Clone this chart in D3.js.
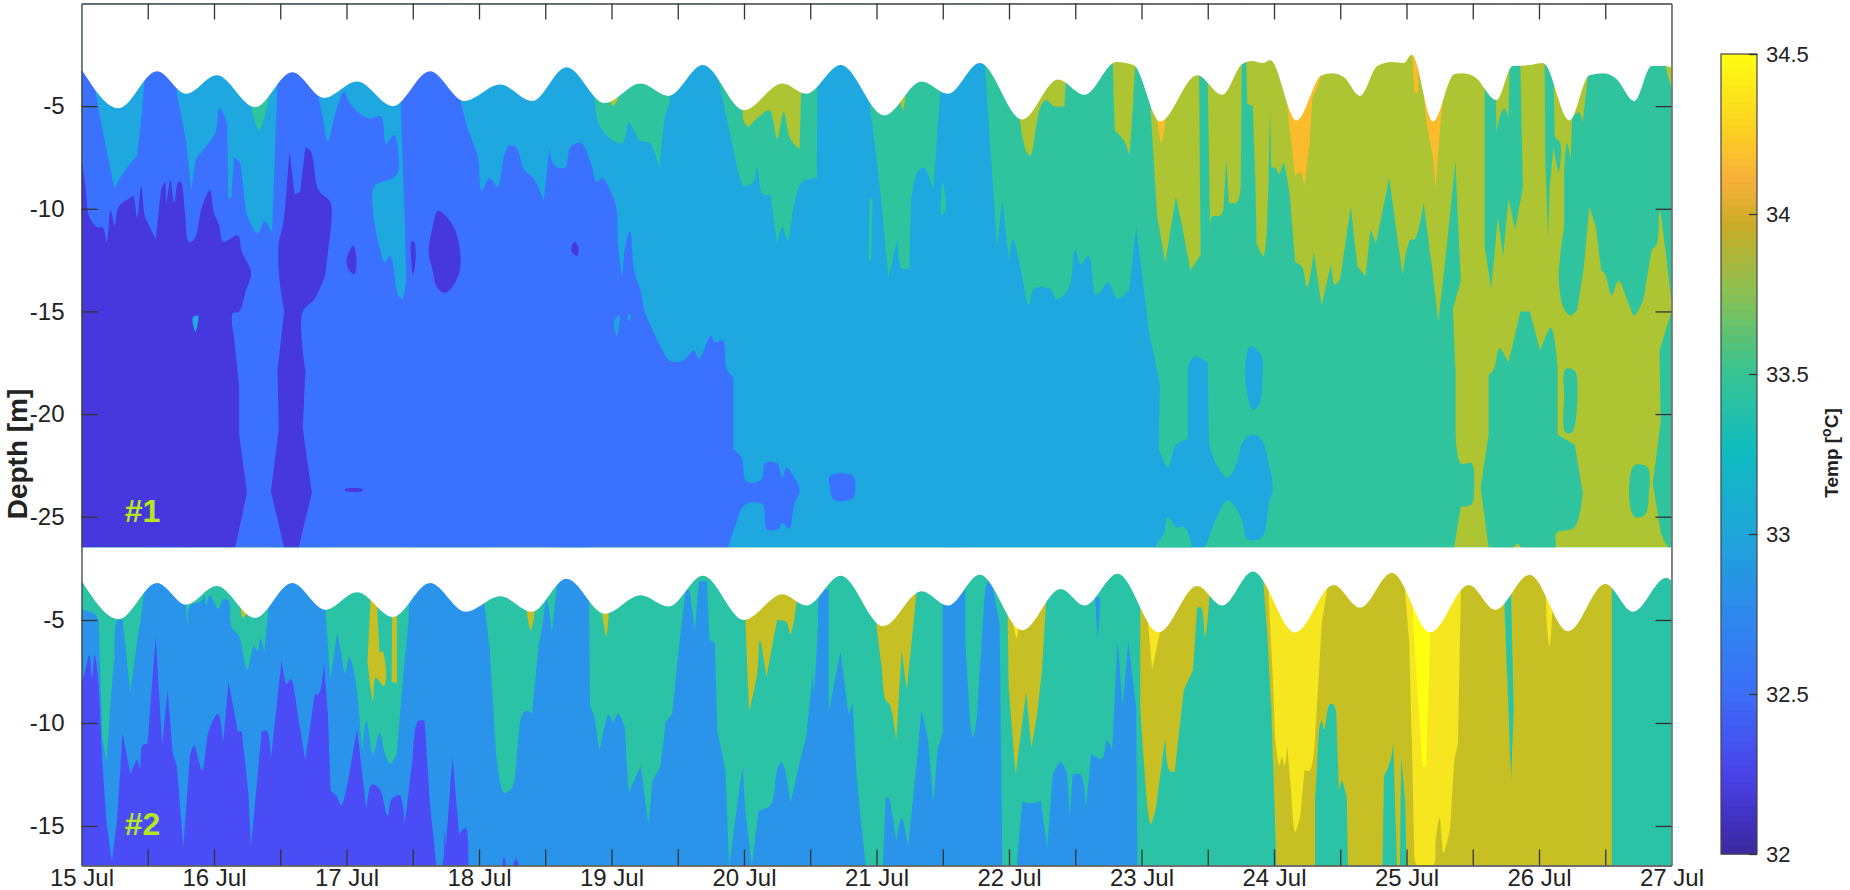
<!DOCTYPE html>
<html>
<head>
<meta charset="utf-8">
<script src="https://cdn.jsdelivr.net/npm/d3@7"></script>
<style>
  body { margin: 0; background: #fff; }
  text { font-family: "Liberation Sans", Arial, sans-serif; fill: #222; }
</style>
</head>
<body>
<svg id="chart" width="1850" height="890"></svg>
<script>
// all shapes are [day of July, depth in m]
let dayTicks = [15, 16, 17, 18, 19, 20, 21, 22, 23, 24, 25, 26, 27];
let halfDayTicks = [15.5, 16, 16.5, 17, 17.5, 18, 18.5, 19, 19.5, 20, 20.5, 21, 21.5, 22, 22.5, 23, 23.5, 24, 24.5, 25, 25.5, 26, 26.5];
let depthTicks1 = [-5, -10, -15, -20, -25];
let depthTicks2 = [-5, -10, -15];
let tempTicks = [32, 32.5, 33, 33.5, 34, 34.5];
let tempStops = [32, 32.12, 32.25, 32.5, 32.75, 33, 33.25, 33.5, 33.75, 33.95, 34.1, 34.25, 34.5];
let tempStopColors = ['#3b2aa0', '#4333c8', '#4a45ea', '#3b6ff8', '#2d8aec', '#1ea6d8', '#10bcc0', '#38c490', '#8cc050', '#c8ac28', '#f8b03a', '#fcd022', '#ffff12'];

// ---- panel #1 ----
let p1Surface = [[15,-3.2],[15.28,-5.1],[15.57,-3.3],[15.79,-4.4],[16.02,-3.5],[16.31,-5.05],[16.59,-3.35],[16.83,-4.6],[17.08,-3.8],[17.35,-5],[17.63,-3.3],[17.89,-4.75],[18.16,-3.95],[18.4,-4.75],[18.66,-3.1],[18.95,-4.85],[19.22,-3.9],[19.43,-4.5],[19.69,-3],[20,-5.2],[20.29,-3.9],[20.47,-4.4],[20.73,-3],[21.06,-5.45],[21.34,-3.8],[21.54,-4.4],[21.78,-2.9],[22.1,-5.65],[22.37,-3.7],[22.57,-4.45],[22.81,-2.85],[22.94,-3],[23.14,-5.75],[23.42,-3.5],[23.61,-4.45],[23.76,-2.95],[23.83,-2.8],[23.92,-2.9],[23.97,-2.75],[24.17,-5.7],[24.36,-3.5],[24.44,-3.4],[24.53,-3.6],[24.65,-4.5],[24.78,-3.05],[24.89,-2.85],[24.98,-2.9],[25.04,-2.5],[25.2,-5.75],[25.36,-3.45],[25.42,-3.4],[25.51,-3.55],[25.68,-4.7],[25.8,-3.05],[25.93,-3],[26.03,-2.9],[26.23,-5.7],[26.38,-3.5],[26.49,-3.4],[26.58,-3.65],[26.72,-4.75],[26.85,-3.05],[26.96,-3.05],[27,-3.15]];
let p1Base = [[15,0],[27,0],[27,-26.5],[15,-26.5]];

let p1TealMain = [[15,0],[18.99,0],[18.99,-4.7],[19.01,-5],[19.05,-4.65],[19.06,0],[19.99,0],[19.99,-5.6],[20.03,-6],[20.08,-5.7],[20.19,-5.2],[20.22,-5.7],[20.25,-6.6],[20.3,-5.3],[20.35,-6.6],[20.42,-7.1],[20.45,0],[21.17,0],[21.18,-4.8],[21.2,-5.2],[21.22,-4.4],[21.23,0],[22.08,0],[22.08,-5.6],[22.13,-7.2],[22.16,-7.4],[22.21,-5.8],[22.24,-5],[22.28,-4.7],[22.34,-5],[22.42,-5],[22.46,0],[22.77,0],[22.8,-6.2],[22.87,-6.7],[22.91,-7.4],[22.94,-4.6],[22.98,0],[23.07,0],[23.07,-5.3],[23.12,-10.4],[23.18,-12.6],[23.26,-9.4],[23.3,-10.6],[23.37,-13],[23.45,-12.2],[23.43,0],[23.5,0],[23.5,-3.7],[23.52,-11.1],[23.53,-10.4],[23.6,-10.3],[23.62,-9.9],[23.64,-7.5],[23.66,-9.7],[23.72,-9.7],[23.75,-8.9],[23.76,0],[23.78,0],[23.8,-4.9],[23.84,-5],[23.86,-8.4],[23.87,-11.7],[23.92,-12.3],[23.95,-10.4],[23.96,-8.4],[23.97,-5.2],[23.98,-8],[24.01,-8],[24.04,-8.3],[24.07,-7.8],[24.12,-9.4],[24.16,-12.6],[24.21,-12.8],[24.25,-13.8],[24.3,-12.1],[24.36,-14.7],[24.43,-12.7],[24.46,-13.7],[24.5,-13.4],[24.58,-9.9],[24.63,-12.8],[24.69,-13.3],[24.73,-11],[24.77,-11.7],[24.87,-8.5],[24.97,-13.2],[25.03,-11.5],[25.06,-11.5],[25.13,-9.7],[25.2,-13.2],[25.24,-15.5],[25.31,-11.5],[25.37,-7.7],[25.41,-13.5],[25.35,-14.9],[25.37,-17.8],[25.37,-20.9],[25.41,-22.4],[25.49,-22.4],[25.51,-23.6],[25.49,-24.4],[25.41,-24.5],[25.36,-26.5],[15,-26.5]];
let p1TealB = [[25.59,0],[25.67,0],[25.68,-6.2],[25.71,-5.4],[25.74,-5.1],[25.77,-5.6],[25.79,0],[25.85,0],[25.88,-8.9],[25.82,-11],[25.77,-9.5],[25.73,-12.3],[25.69,-10.4],[25.64,-13.9],[25.59,-11.8]];
let p1TealC = [[26.04,0],[26.1,0],[26.12,-6.5],[26.16,-6.8],[26.15,-8.2],[26.11,-7],[26.08,-9],[26.07,-11.3],[26.05,-8]];
let p1TealD = [[26.37,0],[26.37,-3.5],[26.33,-5.8],[26.3,-5.3],[26.25,-5.6],[26.24,-7.6],[26.21,-6.8],[26.19,-8.4],[26.19,-10.9],[26.16,-12.3],[26.15,-13.5],[26.19,-14.9],[26.24,-15.2],[26.29,-14.9],[26.34,-12.8],[26.38,-9.9],[26.43,-10.9],[26.47,-13],[26.5,-13.2],[26.55,-14.2],[26.6,-13.5],[26.67,-14.5],[26.72,-15.2],[26.79,-14.4],[26.85,-12],[26.89,-11.7],[26.91,-10.1],[26.95,-11.8],[27,-14.5],[27,-4.1],[26.96,-3.2],[26.95,0]];
let p1TealE = [[25.56,-23.6],[25.62,-21],[25.62,-18.1],[25.66,-17.8],[25.7,-16.8],[25.77,-17.5],[25.86,-15],[25.93,-15],[26.01,-16.9],[26.09,-15.8],[26.14,-17.6],[26.14,-21],[26.27,-21.5],[26.33,-23.8],[26.27,-25.5],[26.13,-25.8],[26.12,-26.5],[25.87,-26.5],[25.84,-26.3],[25.8,-26.5],[25.62,-26.5]];
let p1TealF = [[26.2,-17.8],[26.27,-17.9],[26.29,-19.1],[26.25,-20.9],[26.2,-20.9],[26.19,-19.1]];
let p1TealG = [[26.72,-22.5],[26.82,-22.6],[26.83,-23.8],[26.8,-24.9],[26.72,-25],[26.68,-23.8]];
let p1TealH = [[27,-15],[26.91,-16.9],[26.92,-20.3],[26.86,-23.4],[26.92,-25.8],[26.98,-26.5],[27,-26.5]];
let p1TealBump = [[23.11,-26.5],[23.17,-25.8],[23.2,-25],[23.26,-25.5],[23.32,-25.5],[23.37,-26.5]];
let p1TealSliver1 = [[20.94,-12.5],[20.95,-9.5],[20.97,-9.5],[20.96,-12.5]];
let p1TealSliver2 = [[21.49,-10.3],[21.5,-8.7],[21.52,-10.1]];

let p1SkyMain = [[15,0],[16.27,0],[16.28,-5],[16.34,-6.2],[16.42,-4.5],[16.42,0],[18.86,0],[18.87,-4.5],[18.9,-5.8],[18.96,-6.4],[19.08,-6.8],[19.13,-5.8],[19.17,-6.2],[19.22,-6.7],[19.29,-6.8],[19.36,-8],[19.4,-5.6],[19.44,-4.8],[19.5,0],[19.8,0],[19.8,-3.5],[19.87,-5.6],[19.95,-8],[20,-8.9],[20.07,-8.7],[20.1,-8],[20.14,-9.3],[20.2,-9.3],[20.25,-11.7],[20.29,-10.9],[20.33,-11.5],[20.38,-9.7],[20.44,-8.7],[20.55,-8.5],[20.56,0],[20.95,0],[20.95,-5],[21,-7.5],[21.03,-9.2],[21.09,-13.4],[21.16,-11.4],[21.19,-12.9],[21.25,-12.9],[21.26,-9.6],[21.31,-8.2],[21.36,-8],[21.43,-9.1],[21.46,-6.2],[21.54,0],[21.82,0],[21.82,-3.2],[21.91,-11.8],[21.95,-9.6],[22,-12.5],[22.03,-11.5],[22.09,-13],[22.15,-14.7],[22.19,-13.9],[22.31,-13.9],[22.36,-14.4],[22.45,-13.9],[22.5,-12],[22.54,-12.7],[22.6,-12.3],[22.66,-14.2],[22.75,-13.6],[22.82,-14.4],[22.91,-13.9],[22.96,-10.9],[23,-13],[23.06,-16.1],[23.14,-18.6],[23.13,-21.7],[23.2,-22.6],[23.26,-21.5],[23.35,-21.2],[23.35,-17.7],[23.4,-17.2],[23.5,-17.5],[23.51,-21.4],[23.56,-22.4],[23.65,-23.1],[23.72,-22.4],[23.76,-21.4],[23.84,-21],[23.91,-21.3],[23.96,-22.4],[23.99,-23.6],[23.96,-24.4],[23.91,-26],[23.8,-26.1],[23.75,-25],[23.65,-24.2],[23.57,-25],[23.51,-26],[23.48,-26.5],[15,-26.5]];
let p1SkyIsle1 = [[23.82,-16.7],[23.9,-17.1],[23.91,-18.6],[23.89,-19.5],[23.84,-19.8],[23.79,-18.6],[23.79,-17.3]];
let p1SkyIsle2 = [[15.84,-15.3],[15.88,-15.2],[15.86,-16]];
let p1SkyIsle3 = [[19.02,-15.5],[19.06,-15.2],[19.04,-16.2]];
let p1SkyIsle4 = [[19.12,-15.3],[19.14,-15.1],[19.14,-15.5]];

let p1BlueMain = [[15,0],[15.1,0],[15.1,-4.1],[15.16,-6.2],[15.25,-9],[15.31,-8.3],[15.42,-7.4],[15.46,-5.1],[15.52,0],[15.72,0],[15.72,-4.4],[15.79,-6.7],[15.83,-9.1],[15.87,-7.5],[15.91,-7.2],[16.01,-6.3],[16.04,-5.1],[16.1,-5.8],[16.11,-9.5],[16.13,-9.5],[16.15,-7.5],[16.19,-7.7],[16.22,-8.9],[16.25,-10.3],[16.33,-11.2],[16.38,-10.6],[16.44,-11.2],[16.5,0],[16.79,0],[16.79,-4.6],[16.82,-5.5],[16.86,-6.7],[16.91,-5.5],[16.98,-4.3],[17.02,-4.8],[17.09,-5.3],[17.17,-5.6],[17.26,-5.5],[17.3,-6.8],[17.36,-6.4],[17.39,-8.2],[17.35,-8.5],[17.21,-8.9],[17.2,-10.1],[17.24,-11.6],[17.29,-12.6],[17.33,-12.3],[17.39,-14.2],[17.42,-14.4],[17.45,-13.5],[17.44,-10.4],[17.41,-5],[17.48,0],[17.86,0],[17.86,-4.7],[17.92,-6.2],[17.99,-7.4],[18.02,-9.1],[18.08,-8.5],[18.14,-8.9],[18.19,-7.4],[18.23,-6.9],[18.28,-7],[18.34,-8.1],[18.41,-8.5],[18.49,-9.6],[18.53,-7.1],[18.57,-7.9],[18.65,-8],[18.69,-7],[18.77,-6.8],[18.84,-7.7],[18.89,-8.7],[18.93,-8.5],[19.01,-9.4],[19.04,-10.1],[19.05,-11.8],[19.08,-13.2],[19.1,-12],[19.14,-11.1],[19.17,-13],[19.22,-14],[19.25,-15],[19.31,-15.9],[19.37,-16.7],[19.44,-17.4],[19.54,-17.4],[19.62,-16.9],[19.66,-17.3],[19.75,-16.2],[19.78,-16.5],[19.84,-16.4],[19.87,-17.8],[19.92,-18.2],[19.92,-21.7],[19.98,-22.1],[20.02,-23.3],[20.13,-23.2],[20.16,-22.4],[20.25,-22.4],[20.29,-23.1],[20.32,-22.6],[20.38,-23.1],[20.42,-23.7],[20.38,-24.4],[20.34,-25.6],[20.29,-25.3],[20.26,-25.6],[20.17,-25.6],[20.14,-24.4],[20.01,-24.4],[19.93,-25.5],[19.88,-26.5],[15,-26.5]];
let p1BlueIsle = [[20.65,-23],[20.82,-23],[20.84,-23.6],[20.82,-24.1],[20.68,-24.2],[20.65,-23.6]];

let p1IndigoMain = [[15,-7.5],[15.03,-8.9],[15.06,-10.4],[15.12,-10.9],[15.16,-10.9],[15.19,-11.6],[15.22,-10.1],[15.25,-10.8],[15.28,-9.9],[15.36,-9.5],[15.39,-9.4],[15.42,-10.4],[15.45,-8.9],[15.48,-10.4],[15.51,-10.8],[15.56,-11.5],[15.6,-9.1],[15.63,-8.7],[15.64,-9.7],[15.67,-8.6],[15.7,-9.7],[15.73,-8.7],[15.75,-8.7],[15.78,-10.1],[15.81,-11.6],[15.85,-11.5],[15.91,-9.9],[15.97,-9.1],[16,-10.2],[16.04,-10.8],[16.07,-11.6],[16.18,-11.3],[16.21,-12.1],[16.28,-13.1],[16.24,-14],[16.19,-15],[16.14,-15.1],[16.15,-16.2],[16.19,-18.6],[16.19,-21],[16.25,-23.8],[16.16,-26.5],[15,-26.5]];
let p1IndigoB = [[16.57,-7.2],[16.61,-9.3],[16.65,-9.2],[16.69,-7],[16.73,-7.2],[16.79,-9.1],[16.88,-9.7],[16.88,-11.1],[16.84,-13.2],[16.76,-14.4],[16.67,-15],[16.67,-16.9],[16.69,-17.9],[16.67,-20.7],[16.74,-23.8],[16.64,-26.5],[16.53,-26.5],[16.43,-23.8],[16.49,-20.7],[16.48,-17.9],[16.53,-15],[16.49,-13.2],[16.49,-11.6],[16.52,-10.8],[16.55,-8.9]];
let p1IndigoC = [[17,-12.5],[17.05,-11.8],[17.07,-12.1],[17.06,-13.2],[17.02,-13]];
let p1IndigoD = [[17.49,-11.6],[17.51,-11.6],[17.52,-12.6],[17.5,-13.2],[17.49,-12.6]];
let p1IndigoE = [[17.69,-10.1],[17.81,-10.9],[17.86,-12.8],[17.8,-13.8],[17.74,-14.1],[17.68,-13.8],[17.65,-13],[17.62,-12.1],[17.65,-10.9]];
let p1IndigoF = [[18.72,-11.6],[18.75,-11.9],[18.74,-12.3],[18.7,-12.1],[18.7,-11.8]];
let p1IndigoG = [[16.99,-23.65],[17.12,-23.65],[17.12,-23.75],[16.99,-23.75]];

let p1OrangeA = [[23.12,-4],[23.12,-5.7],[23.15,-6.75],[23.18,-5.7],[23.18,-4]];
let p1OrangeB = [[24.1,-2.4],[24.1,-5],[24.11,-5.6],[24.16,-8.4],[24.2,-8.2],[24.23,-8.9],[24.27,-6.7],[24.29,-4.6],[24.35,-3.5],[24.3,-2.4]];
let p1OrangeC = [[25.03,-1.5],[25.04,-2],[25.06,-4.3],[25.08,-4.4],[25.09,-3.5],[25.06,-1.5]];
let p1OrangeD = [[25.15,-4],[25.15,-5.7],[25.2,-7.5],[25.22,-9.1],[25.26,-5.6],[25.26,-4]];

// ---- panel #2 ----
let p2Surface = [[15,-3.1],[15.28,-4.96],[15.57,-3.2],[15.79,-4.25],[16.02,-3.35],[16.31,-4.9],[16.59,-3.2],[16.84,-4.5],[17.08,-3.65],[17.35,-4.85],[17.63,-3.2],[17.9,-4.6],[18.16,-3.85],[18.4,-4.6],[18.66,-3],[18.95,-4.7],[19.22,-3.8],[19.43,-4.35],[19.69,-2.85],[20,-5],[20.29,-3.75],[20.47,-4.3],[20.73,-2.85],[21.05,-5.3],[21.34,-3.6],[21.54,-4.3],[21.78,-2.8],[22.1,-5.5],[22.39,-3.5],[22.57,-4.3],[22.82,-2.75],[23.13,-5.6],[23.42,-3.35],[23.61,-4.3],[23.84,-2.65],[24.16,-5.6],[24.45,-3.3],[24.65,-4.4],[24.89,-2.7],[25.18,-5.6],[25.47,-3.3],[25.67,-4.5],[25.93,-2.8],[26.22,-5.55],[26.5,-3.25],[26.71,-4.6],[26.96,-2.95],[27,-3.1]];
let p2Base = [[15,-1.48],[27,-1.48],[27,-16.92],[15,-16.92]];

let p2OliveA = [[16.22,-1.5],[16.2,-4.4],[16.22,-4.9],[16.25,-4.6],[16.25,-1.5]];
let p2OliveB = [[17.18,-1.5],[17.18,-4.1],[17.16,-7.1],[17.2,-8.9],[17.22,-7.8],[17.28,-8.2],[17.3,-7.8],[17.27,-6.5],[17.25,-6.6],[17.23,-4.2],[17.23,-1.5]];
let p2OliveC = [[17.35,-1.5],[17.34,-8],[17.38,-8.05],[17.38,-1.5]];
let p2OliveD = [[18.36,-1.5],[18.36,-4.6],[18.39,-5.5],[18.42,-4.6],[18.42,-1.5]];
let p2OliveE = [[18.93,-1.5],[18.93,-4.7],[18.96,-5.8],[18.98,-4.7],[18.98,-1.5]];
let p2OliveF = [[20.01,-1.5],[20.01,-5],[20.04,-9.4],[20.1,-7.6],[20.12,-6],[20.17,-7.8],[20.25,-5],[20.32,-5.1],[20.35,-5.7],[20.4,-4],[20.4,-1.5]];
let p2OliveG = [[21,-1.5],[21,-5.3],[21.04,-7.3],[21.07,-8.9],[21.1,-9.1],[21.15,-10.9],[21.19,-6.5],[21.23,-8.4],[21.3,-3.8],[21.3,-1.5]];
let p2OliveH = [[21.99,-1.5],[21.99,-4.8],[22,-8.4],[22.05,-12.5],[22.13,-8.5],[22.17,-11.2],[22.21,-9.7],[22.25,-7.4],[22.28,-4.2],[22.28,-1.5]];
let p2OliveI = [[22.99,-1.5],[22.99,-4.4],[22.99,-9.2],[23.03,-13],[23.07,-14.9],[23.11,-14.1],[23.18,-10.7],[23.21,-12.3],[23.25,-12.4],[23.32,-8.4],[23.39,-7.4],[23.42,-4.4],[23.45,-4.4],[23.48,-5.8],[23.51,-4.2],[23.53,-1.5]];
let p2OliveBig = [[23.92,-1.5],[23.92,-3.2],[23.95,-5.7],[23.98,-9.2],[24,-13.3],[24.02,-16.92],[26.55,-16.92],[26.55,-1.5]];

let p2TealA = [[24.31,-16.92],[24.31,-13.8],[24.34,-10.3],[24.36,-9.9],[24.38,-10.3],[24.42,-9.1],[24.45,-9.1],[24.47,-9.5],[24.49,-13.3],[24.51,-12.8],[24.55,-13.6],[24.56,-16.92]];
let p2TealB = [[24.82,-16.92],[24.83,-12.6],[24.88,-11.8],[24.9,-11],[24.93,-16.92]];
let p2TealC = [[24.95,-16.92],[24.96,-11.65],[24.99,-13.8],[25,-16.92]];
let p2TealD = [[25.74,-1.5],[25.74,-4.4],[25.76,-7.6],[25.79,-12.8],[25.81,-9.2],[25.79,-3.8],[25.79,-1.5]];

let p2YellowA = [[23.96,-1.5],[23.96,-3.9],[23.99,-7.6],[24.01,-10.8],[24.04,-12.05],[24.06,-11.65],[24.08,-12.1],[24.1,-11.1],[24.13,-13.4],[24.16,-15.3],[24.2,-14.5],[24.23,-12.3],[24.27,-12.3],[24.31,-10.7],[24.34,-7.6],[24.36,-5.2],[24.4,-3.55],[24.4,-1.5]];
let p2YellowB = [[24.99,-1.5],[24.99,-3.7],[25.02,-6],[25.04,-10.7],[25.06,-16.5],[25.08,-16.92],[25.2,-16.92],[25.22,-15.7],[25.25,-14.6],[25.28,-16.3],[25.33,-15.1],[25.36,-11.8],[25.39,-11],[25.41,-3.9],[25.41,-1.5]];
let p2YellowC = [[26.04,-1.5],[26.06,-5.3],[26.08,-6.3],[26.1,-4.7],[26.1,-1.5]];
let p2YellowD = [[22.03,-1.5],[22.03,-5.2],[22.06,-5.9],[22.07,-5.2],[22.07,-1.5]];
let p2YellowE = [[23.05,-1.5],[23.05,-5.2],[23.08,-7.4],[23.14,-5.6],[23.14,-1.5]];
let p2Bright = [[25.05,-1.5],[25.05,-5.2],[25.09,-9],[25.12,-12.1],[25.15,-12.1],[25.17,-7.6],[25.18,-5.5],[25.18,-1.5]];

let p2BlueMain = [[15,-4.5],[15.09,-4.65],[15.13,-5],[15.16,-10.8],[15.19,-11.9],[15.22,-8.9],[15.25,-6.8],[15.27,-5],[15.31,-5],[15.37,-8.5],[15.42,-6],[15.45,-4.85],[15.47,-3.8],[15.48,-1.48],[15.79,-1.48],[15.79,-4.3],[15.8,-5.2],[15.82,-4.3],[15.9,-4.1],[15.93,-3.8],[15.94,-4.3],[15.97,-3.8],[16.03,-4.45],[16.07,-4],[16.11,-4.05],[16.13,-5.3],[16.19,-5.8],[16.25,-7.4],[16.3,-6.3],[16.33,-6.5],[16.35,-5.9],[16.38,-6.55],[16.41,-4.6],[16.43,-1.48],[16.84,-1.48],[16.84,-4.5],[16.88,-7.85],[16.93,-5.6],[16.96,-6.6],[16.99,-7.6],[17.02,-6.8],[17.06,-7.6],[17.09,-9.2],[17.12,-11.4],[17.15,-9.9],[17.2,-11.5],[17.25,-10.5],[17.29,-11.5],[17.33,-12],[17.38,-11.5],[17.43,-7.6],[17.47,-5],[17.48,-1.48],[18.04,-1.48],[18.04,-4.2],[18.08,-6.3],[18.13,-11.5],[18.19,-13.4],[18.25,-13.1],[18.29,-11.3],[18.32,-9.7],[18.36,-9.4],[18.4,-9.55],[18.45,-6.3],[18.48,-5.2],[18.51,-4],[18.55,-5.6],[18.59,-3.3],[18.6,-1.48],[18.83,-1.48],[18.83,-4.5],[18.84,-9.2],[18.87,-9.7],[18.91,-11.25],[18.92,-11],[18.98,-9.6],[19.01,-9.95],[19.05,-9.55],[19.1,-10.2],[19.13,-13.4],[19.22,-12.1],[19.28,-14.9],[19.31,-12.8],[19.37,-12.1],[19.41,-9.95],[19.46,-9.55],[19.51,-6.3],[19.56,-3.55],[19.59,-3.55],[19.63,-5.5],[19.66,-3.1],[19.72,-3.1],[19.74,-6],[19.78,-6.1],[19.8,-10.4],[19.86,-12.3],[19.89,-16.92],[19.92,-15.4],[19.99,-12.1],[20.01,-14.25],[20.06,-16.92],[20.11,-14.25],[20.2,-14],[20.25,-12.3],[20.28,-11.9],[20.31,-12.3],[20.35,-13.9],[20.43,-11.65],[20.47,-10.7],[20.52,-7.6],[20.53,-8.65],[20.56,-5.2],[20.58,-3.55],[20.64,-3.55],[20.64,-9.55],[20.68,-8.1],[20.73,-6.55],[20.79,-9.55],[20.82,-9.05],[20.85,-12.5],[20.88,-14.6],[20.92,-16.92],[21.05,-16.92],[21.07,-13.6],[21.1,-13.7],[21.15,-15.7],[21.19,-14.6],[21.24,-16],[21.31,-11.5],[21.34,-9.4],[21.39,-10.8],[21.43,-13.9],[21.46,-11.3],[21.5,-10.5],[21.5,-1.48],[21.67,-1.48],[21.67,-6],[21.71,-10.2],[21.73,-10.7],[21.76,-9.55],[21.81,-4.4],[21.84,-3.15],[21.87,-3.15],[21.93,-5.2],[21.95,-16.92],[22.06,-16.92],[22.1,-13.8],[22.14,-13.9],[22.24,-13.8],[22.29,-16.1],[22.33,-12.5],[22.39,-11.9],[22.44,-12.5],[22.46,-14.6],[22.48,-12.5],[22.54,-12.5],[22.58,-14.2],[22.62,-11.5],[22.7,-11.75],[22.74,-10.85],[22.78,-11.3],[22.82,-6],[22.86,-9.2],[22.9,-6.05],[22.96,-9.2],[22.97,-16.92],[15,-16.92]];
let p2BlueSliver = [[22.65,-3.9],[22.67,-6],[22.69,-3.9]];

let p2IndigoMain = [[15,-8.1],[15.03,-7.4],[15.06,-6.7],[15.08,-7.8],[15.1,-6.7],[15.13,-8.1],[15.16,-12.1],[15.19,-14.9],[15.23,-16.7],[15.27,-14.6],[15.31,-10.5],[15.37,-12.5],[15.42,-11.8],[15.44,-12.2],[15.46,-11.1],[15.5,-11],[15.56,-5.8],[15.61,-11],[15.65,-8.4],[15.69,-11.5],[15.72,-12.1],[15.77,-16],[15.82,-11.5],[15.85,-11.1],[15.91,-12.3],[15.96,-10.4],[16.03,-9.55],[16.07,-11],[16.11,-8],[16.18,-10.4],[16.21,-10.4],[16.26,-13.4],[16.28,-16],[16.36,-10.4],[16.4,-10.4],[16.43,-11.8],[16.51,-6.95],[16.55,-8.1],[16.58,-7.85],[16.63,-9.5],[16.69,-11.8],[16.76,-8.6],[16.79,-8.6],[16.83,-7.1],[16.86,-9.55],[16.88,-13.3],[16.92,-13.5],[16.96,-14],[17.02,-12.5],[17.08,-10.3],[17.15,-14.2],[17.19,-13],[17.25,-13.2],[17.31,-14.5],[17.34,-13.7],[17.4,-13.5],[17.44,-14.9],[17.5,-11.65],[17.54,-9.9],[17.59,-9.9],[17.63,-13.9],[17.68,-16.92],[17.72,-16.92],[17.74,-15.3],[17.75,-16.1],[17.8,-11.65],[17.85,-15.4],[17.9,-15.1],[17.92,-16.92],[15,-16.92]];
let p2IndigoB = [[18.18,-16.92],[18.19,-16.5],[18.2,-16.92]];
let p2IndigoC = [[18.26,-16.92],[18.28,-16.6],[18.3,-16.92]];

// colours of the two panels (the figure was exported with slightly different palettes)
let c1 = { olive: '#adc433', teal: '#2fc49e', sky: '#1ea8df', blue: '#3a72ff', indigo: '#4638dc', orange: '#fbbc2c' };
let c2 = { olive: '#c6c024', teal: '#2ac3a6', blue: '#2a94ea', indigo: '#4a4cf5', yellow: '#f5e61f', bright: '#ffff10' };

// paint order: later shapes lie on top
let layers1 = [
  [c1.olive, p1Base],
  [c1.teal, p1TealMain], [c1.teal, p1TealB], [c1.teal, p1TealC], [c1.teal, p1TealD], [c1.teal, p1TealE],
  [c1.teal, p1TealF], [c1.teal, p1TealG], [c1.teal, p1TealH],
  [c1.sky, p1SkyMain],
  [c1.teal, p1TealBump], [c1.teal, p1TealSliver1], [c1.teal, p1TealSliver2],
  [c1.sky, p1SkyIsle1],
  [c1.blue, p1BlueMain], [c1.blue, p1BlueIsle],
  [c1.indigo, p1IndigoMain], [c1.indigo, p1IndigoB], [c1.indigo, p1IndigoC], [c1.indigo, p1IndigoD],
  [c1.indigo, p1IndigoE], [c1.indigo, p1IndigoF], [c1.indigo, p1IndigoG],
  [c1.sky, p1SkyIsle2], [c1.sky, p1SkyIsle3], [c1.sky, p1SkyIsle4],
  [c1.orange, p1OrangeA], [c1.orange, p1OrangeB], [c1.orange, p1OrangeC], [c1.orange, p1OrangeD]
];
let layers2 = [
  [c2.teal, p2Base],
  [c2.olive, p2OliveA], [c2.olive, p2OliveB], [c2.olive, p2OliveC], [c2.olive, p2OliveD], [c2.olive, p2OliveE],
  [c2.olive, p2OliveF], [c2.olive, p2OliveG], [c2.olive, p2OliveH], [c2.olive, p2OliveI], [c2.olive, p2OliveBig],
  [c2.teal, p2TealA], [c2.teal, p2TealB], [c2.teal, p2TealC], [c2.teal, p2TealD],
  [c2.yellow, p2YellowA], [c2.yellow, p2YellowB], [c2.yellow, p2YellowC], [c2.yellow, p2YellowD], [c2.yellow, p2YellowE],
  [c2.bright, p2Bright],
  [c2.blue, p2BlueMain], [c2.blue, p2BlueSliver],
  [c2.indigo, p2IndigoMain], [c2.indigo, p2IndigoB], [c2.indigo, p2IndigoC]
];

let svg = d3.select('#chart');
let left = 81.5, right = 1671.5, top1 = 3.5, mid = 547.5, bottom = 865.5;
let tickLen = 16;
let longEdge = 40;

let xScale = d3.scaleLinear().domain([15, 27]).range([left, right]);
let yScale1 = d3.scaleLinear().domain([0, -26.5]).range([top1, mid]);
let yScale2 = d3.scaleLinear().domain([-1.48, -16.92]).range([mid, bottom]);

let drawPanel = (id, layers, surface, yScale, yTop) => {
  let clip = svg.append('clipPath').attr('id', id);
  clip.append('rect')
    .attr('x', left).attr('y', yScale.range()[0])
    .attr('width', right - left)
    .attr('height', yScale.range()[1] - yScale.range()[0]);

  let g = svg.append('g').attr('clip-path', 'url(#' + id + ')');

  // contour edges get rounded like the source figure, but long edges stay straight:
  // doubling a point makes the spline pass through it with a hard corner
  let shape = d3.line()
    .x(d => d[0])
    .y(d => d[1])
    .curve(d3.curveCatmullRomClosed.alpha(0.5));
  let toPath = (pts) => {
    let px = pts.map(d => [xScale(d[0]), yScale(d[1])]);
    let out = [];
    px.forEach((p, i) => {
      let prev = px[(i + px.length - 1) % px.length];
      let next = px[(i + 1) % px.length];
      let isLong = Math.hypot(p[0] - prev[0], p[1] - prev[1]) > longEdge
        || Math.hypot(p[0] - next[0], p[1] - next[1]) > longEdge;
      out.push(p);
      if (isLong) out.push(p);
    });
    return shape(out);
  };

  g.selectAll('.band')
    .data(layers)
    .enter().append('path')
    .attr('class', 'band')
    .attr('fill', d => d[0])
    .attr('d', d => toPath(d[1]));

  // water above the surface is blanked out
  let air = d3.area()
    .x(d => xScale(d[0]))
    .y0(yScale(yTop))
    .y1(d => yScale(d[1]))
    .curve(d3.curveMonotoneX);
  g.append('path')
    .datum(surface)
    .attr('fill', '#fff')
    .attr('d', air);
};

drawPanel('clip1', layers1, p1Surface, yScale1, 0);
drawPanel('clip2', layers2, p2Surface, yScale2, -1.48);

// axes, all ticks point into the plot
let styleAxis = (g) => {
  g.selectAll('path').attr('stroke', '#444').attr('stroke-width', 1.3);
  g.selectAll('line').attr('stroke', '#333').attr('stroke-width', 1.3);
  g.selectAll('text').attr('font-size', 24).attr('fill', '#222');
};

svg.append('g')
  .attr('transform', 'translate(0,' + top1 + ')')
  .call(d3.axisTop(xScale).tickValues(halfDayTicks).tickSize(-tickLen).tickSizeOuter(0).tickFormat(''))
  .call(styleAxis);

svg.append('g')
  .attr('transform', 'translate(0,' + bottom + ')')
  .call(d3.axisBottom(xScale).tickValues(halfDayTicks).tickSize(-tickLen).tickSizeOuter(0).tickFormat(''))
  .call(styleAxis);

svg.append('g')
  .attr('transform', 'translate(0,' + bottom + ')')
  .call(d3.axisBottom(xScale).tickValues(dayTicks).tickSize(0).tickPadding(3).tickFormat(d => d + ' Jul'))
  .call(styleAxis)
  .call(g => g.select('.domain').remove());

[[yScale1, depthTicks1], [yScale2, depthTicks2]].forEach(p => {
  svg.append('g')
    .attr('transform', 'translate(' + left + ',0)')
    .call(d3.axisLeft(p[0]).tickValues(p[1]).tickSize(-tickLen).tickSizeOuter(0).tickPadding(17).tickFormat(d => d))
    .call(styleAxis);
  svg.append('g')
    .attr('transform', 'translate(' + right + ',0)')
    .call(d3.axisRight(p[0]).tickValues(p[1]).tickSize(-tickLen).tickSizeOuter(0).tickFormat(''))
    .call(styleAxis);
});

svg.append('text')
  .attr('transform', 'translate(27,454) rotate(-90)')
  .attr('text-anchor', 'middle')
  .attr('font-size', 28)
  .attr('font-weight', 'bold')
  .attr('fill', '#111')
  .text('Depth [m]');

let panelLabels = [['#1', yScale1(-24.7)], ['#2', yScale2(-14.9)]];
svg.selectAll('.panelLabel')
  .data(panelLabels)
  .enter().append('text')
  .attr('class', 'panelLabel')
  .attr('x', xScale(15.46))
  .attr('y', d => d[1])
  .attr('dy', '0.36em')
  .attr('text-anchor', 'middle')
  .attr('font-family', '"Liberation Sans Narrow", "Liberation Sans", sans-serif')
  .attr('font-size', 32)
  .attr('font-weight', 'bold')
  .style('fill', '#b6e61e')
  .text(d => d[0]);

// colour bar
let barLeft = 1721, barRight = 1757, barTop = 54, barBottom = 854;
let tempScale = d3.scaleLinear().domain([32, 34.5]).range([barBottom, barTop]);
let tempColor = d3.scaleLinear().domain(tempStops).range(tempStopColors);
let barSteps = d3.range(32, 34.5, 0.025);

svg.append('g').selectAll('rect')
  .data(barSteps)
  .enter().append('rect')
  .attr('x', barLeft)
  .attr('width', barRight - barLeft)
  .attr('y', d => tempScale(d + 0.025))
  .attr('height', d => tempScale(d) - tempScale(d + 0.025) + 0.5)
  .attr('fill', d => tempColor(d));

svg.append('rect')
  .attr('x', barLeft).attr('y', barTop)
  .attr('width', barRight - barLeft).attr('height', barBottom - barTop)
  .attr('fill', 'none').attr('stroke', '#444').attr('stroke-width', 1.2);

svg.append('g')
  .attr('transform', 'translate(' + barRight + ',0)')
  .call(d3.axisRight(tempScale).tickValues(tempTicks).tickSize(-8).tickSizeOuter(0).tickPadding(9).tickFormat(d => d))
  .call(styleAxis)
  .call(g => g.select('.domain').remove())
  .call(g => g.selectAll('text').attr('font-size', 22));

let tempLabel = svg.append('text')
  .attr('transform', 'translate(1838,453) rotate(-90)')
  .attr('text-anchor', 'middle')
  .attr('font-size', 19)
  .attr('font-weight', 'bold')
  .attr('fill', '#111');
tempLabel.append('tspan').text('Temp [');
tempLabel.append('tspan').attr('dy', -7).attr('font-size', 14).text('o');
tempLabel.append('tspan').attr('dy', 7).text('C]');
</script>
</body>
</html>
